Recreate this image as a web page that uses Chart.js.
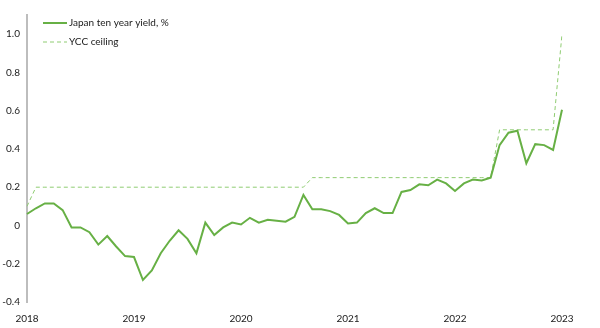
<!DOCTYPE html>
<html>
<head>
<meta charset="utf-8">
<script src="https://cdn.jsdelivr.net/npm/chart.js@4"></script>
<style>
    html, body { margin: 0; padding: 0; background: #fff; }
    #wrap { width: 600px; height: 328px; position: relative; }
</style>
</head>
<body>
<div id="wrap"><canvas id="yieldChart"></canvas></div>
<script>
// year labels on the x axis (one per January)
const years = ['2018', '2019', '2020', '2021', '2022', '2023'];
const monthNames = ['Jan', 'Feb', 'Mar', 'Apr', 'May', 'Jun', 'Jul', 'Aug', 'Sep', 'Oct', 'Nov', 'Dec'];

// monthly 10y JGB yield, Jan 2018 .. Jan 2023
const jgbYield = [
    0.06, 0.09, 0.115, 0.115, 0.08, -0.01, -0.01, -0.035, -0.10, -0.055, -0.11, -0.16,
    -0.165, -0.285, -0.235, -0.145, -0.08, -0.025, -0.07, -0.145, 0.015, -0.05, -0.01, 0.015,
    0.005, 0.04, 0.015, 0.03, 0.025, 0.02, 0.045, 0.16, 0.085, 0.085, 0.075, 0.055,
    0.01, 0.015, 0.065, 0.09, 0.065, 0.065, 0.175, 0.185, 0.215, 0.21, 0.24, 0.22,
    0.18, 0.22, 0.24, 0.235, 0.25, 0.42, 0.485, 0.495, 0.325, 0.425, 0.42, 0.395,
    0.605
];

// yield curve control ceiling
const yccCeiling = [
    0.1, 0.2, 0.2, 0.2, 0.2, 0.2, 0.2, 0.2, 0.2, 0.2, 0.2, 0.2,
    0.2, 0.2, 0.2, 0.2, 0.2, 0.2, 0.2, 0.2, 0.2, 0.2, 0.2, 0.2,
    0.2, 0.2, 0.2, 0.2, 0.2, 0.2, 0.2, 0.2, 0.25, 0.25, 0.25, 0.25,
    0.25, 0.25, 0.25, 0.25, 0.25, 0.25, 0.25, 0.25, 0.25, 0.25, 0.25, 0.25,
    0.25, 0.25, 0.25, 0.25, 0.25, 0.5, 0.5, 0.5, 0.5, 0.5, 0.5, 0.5,
    1.0
];

const yTicks = [-0.4, -0.2, 0, 0.2, 0.4, 0.6, 0.8, 1.0];

const monthLabels = [];
years.forEach((year, yi) => {
    monthNames.forEach((m, mi) => {
        if (yi < years.length - 1 || mi === 0) {
            monthLabels.push(m + ' ' + year);
        }
    });
});

const fontFamily = 'Lato, "Open Sans", sans-serif';

// simple two-row legend drawn in the top-left of the plot
const cornerLegend = {
    id: 'cornerLegend',
    afterDraw(chart) {
        const ctx = chart.ctx;
        const left = chart.chartArea.left + 16;
        let y = chart.chartArea.top + 8;
        ctx.save();
        chart.data.datasets.forEach(ds => {
            ctx.beginPath();
            ctx.strokeStyle = ds.borderColor;
            ctx.lineWidth = ds.borderWidth;
            ctx.setLineDash(ds.borderDash || []);
            ctx.moveTo(left, y);
            ctx.lineTo(left + 24, y);
            ctx.stroke();
            ctx.setLineDash([]);
            ctx.fillStyle = '#1a1a1a';
            ctx.font = '10px ' + fontFamily;
            ctx.textBaseline = 'middle';
            ctx.textAlign = 'left';
            ctx.fillText(ds.label, left + 26, y);
            y += 19;
        });
        ctx.restore();
    }
};

const yieldCanvas = document.getElementById('yieldChart').getContext('2d');
new Chart(yieldCanvas, {
    type: 'line',
    data: {
        labels: monthLabels,
        datasets: [
            {
                label: 'Japan ten year yield, %',
                data: jgbYield,
                borderColor: '#67b045',
                borderWidth: 2,
                pointRadius: 0,
                tension: 0,
                fill: false,
            },
            {
                label: 'YCC ceiling',
                data: yccCeiling,
                borderColor: '#8fcc72',
                borderWidth: 1,
                borderDash: [4, 3],
                pointRadius: 0,
                tension: 0,
                fill: false,
            }
        ]
    },
    options: {
        responsive: true,
        maintainAspectRatio: false,
        animation: false,
        layout: {
            padding: { top: 15, right: 38, left: 0, bottom: 0 }
        },
        plugins: {
            legend: { display: false },
            tooltip: { enabled: false },
        },
        scales: {
            x: {
                offset: false,
                grid: { display: false, drawTicks: false },
                border: { display: false },
                ticks: {
                    autoSkip: false,
                    maxRotation: 0,
                    padding: 11,
                    color: '#1a1a1a',
                    font: { family: fontFamily, size: 10 },
                    callback: function(value, index) {
                        return index % 12 === 0 ? years[index / 12] : '';
                    }
                },
                afterFit: function(scale) {
                    scale.height = 26;
                }
            },
            y: {
                min: -0.4,
                max: 1.1,
                grid: { display: false, drawTicks: false },
                border: { display: true, color: '#bdbdbd', width: 2 },
                ticks: {
                    padding: 7,
                    color: '#1a1a1a',
                    font: { family: fontFamily, size: 10 },
                    callback: function(value) {
                        return value === 0 ? '0' : value.toFixed(1);
                    }
                },
                afterBuildTicks: function(scale) {
                    scale.ticks = yTicks.map(v => ({ value: v }));
                },
                afterFit: function(scale) {
                    scale.width = 27;
                }
            }
        }
    },
    plugins: [cornerLegend]
});
</script>
</body>
</html>
